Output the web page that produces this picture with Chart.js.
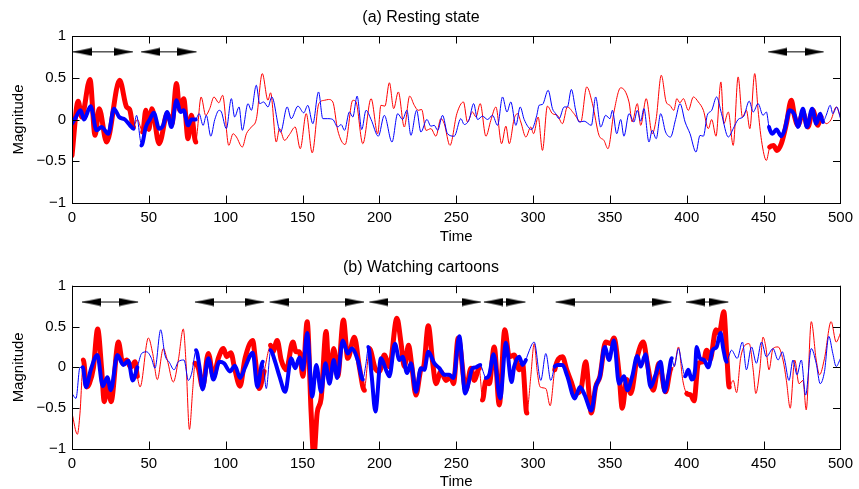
<!DOCTYPE html>
<html>
<head>
<meta charset="utf-8">
<script src="https://cdn.jsdelivr.net/npm/chart.js@4.4.0/dist/chart.umd.min.js"></script>
<style>
  html, body { margin: 0; padding: 0; background: #fff; overflow: hidden; }
  .panel { position: absolute; left: 0; width: 859px; height: 260px; }
  #panel-rest { top: 0; }
  #panel-cartoon { top: 240px; }
</style>
</head>
<body>
<div class="panel" id="panel-rest"><canvas id="chart-rest" width="859" height="260"></canvas></div>
<div class="panel" id="panel-cartoon"><canvas id="chart-cartoon" width="859" height="260"></canvas></div>
<script>
const restRedT = [0, 4, 6.3, 11.7, 15, 17.7, 22.5, 31, 35.5, 37.5, 40, 42.5, 46, 48, 50, 52, 56.7, 62, 65, 68, 70, 72.7, 75.5, 77.7, 80.5, 84, 87, 89.6, 92.4, 95.5, 98, 102, 104.8, 107, 110.8, 113.5, 116.7, 120, 123.8, 127.5, 129.2, 132.9, 135, 138.3, 141.5, 145.2, 148.5, 152.4, 156.3, 160.6, 164.3, 166.9, 169.7, 172.9, 177.7, 182.7, 184.8, 189.2, 194.6, 198.9, 201, 203.6, 206.5, 209.3, 212.3, 216.2, 219.7, 222.7, 225.3, 227.5, 230.3, 233.5, 236.8, 240, 242.2, 245.9, 250.4, 254.7, 257.3, 260.6, 262.8, 265.6, 269.3, 272.5, 275.8, 279.5, 282.3, 284.5, 287.7, 289.9, 292, 295.3, 298.5, 300.3, 303.3, 306.1, 309.3, 312.6, 315.8, 319.1, 322.3, 326.6, 331, 334.9, 338.6, 342.9, 346.1, 348.7, 352.6, 357, 362.4, 364.5, 367.8, 370, 373.6, 377.5, 380.1, 383.4, 386.6, 389, 391.6, 393.5, 395.5, 397.8, 401, 404.3, 407.5, 410.8, 414, 416.2, 419, 422.2, 424.1, 427, 430.2, 433.4, 436.2, 438.8, 441, 444.2, 446.4, 448.6, 451.8, 454, 456.4, 458.7, 461.5, 464.8, 468, 470.2, 472.3, 475.6, 478.8, 482, 485.3, 487.4, 490.7, 493.9, 497.2, 500];
const restRedV = [-0.43, 0.22, 0.03, 0.48, -0.19, 0.13, -0.27, 0.47, 0.15, 0.12, -0.09, 0.0, -0.15, 0.11, -0.12, 0.13, -0.29, 0.07, -0.05, 0.43, 0.11, 0.25, -0.23, 0.05, -0.27, 0.27, 0.05, 0.13, 0.27, 0.2, 0.29, -0.31, -0.17, -0.21, -0.33, -0.17, -0.09, 0.01, 0.55, 0.23, 0.32, -0.27, -0.11, -0.25, -0.18, -0.09, -0.35, 0.07, -0.4, 0.19, 0.23, 0.24, 0.21, -0.13, -0.3, 0.23, 0.21, -0.29, 0.25, -0.17, 0.17, 0.16, 0.44, 0.13, 0.33, -0.09, 0.28, 0.17, 0.11, 0.12, -0.13, -0.11, -0.2, 0.01, -0.05, -0.31, 0.07, 0.21, -0.03, 0.09, 0.03, 0.19, -0.2, -0.01, 0.15, -0.29, -0.08, -0.29, 0.01, 0.07, -0.03, -0.21, -0.09, -0.17, 0.03, -0.37, 0.16, 0.07, 0.05, -0.05, 0.15, 0.07, -0.03, 0.39, 0.19, -0.19, -0.25, -0.35, 0.09, 0.38, 0.21, -0.03, 0.19, -0.07, 0.25, -0.17, 0.01, 0.53, 0.21, 0.17, 0.11, 0.25, 0.2, 0.25, 0.11, 0.27, 0.21, 0.11, -0.11, 0, -0.2, 0.45, -0.05, 0.09, -0.31, 0.51, 0.03, 0.11, -0.11, 0.55, 0.11, -0.25, -0.49, -0.33, -0.31, -0.37, -0.29, -0.05, 0.23, 0.03, -0.07, 0.08, -0.09, 0.11, -0.07, 0.03, -0.05, 0.0, 0.15, 0.03];

const restBlueT = [0, 2, 5.6, 7.8, 12.1, 16, 19.2, 23.6, 27.3, 30.7, 34.4, 37.7, 40, 42, 45.2, 48, 50.6, 53.2, 56.7, 59.3, 61.9, 64.7, 68, 70.6, 72.7, 75.5, 77.7, 80.5, 82.7, 85.3, 87.4, 90.3, 92.9, 95.7, 97.2, 100.4, 103.7, 105.8, 108.7, 110.8, 114.5, 116.7, 119.9, 122.1, 124.7, 127.5, 130, 135.7, 140, 142.6, 147, 150.8, 153.4, 156.7, 160.4, 163.2, 166.4, 169.7, 172.9, 175.1, 177.3, 180.5, 182.7, 185.5, 188.5, 191.3, 194.6, 199.3, 203.2, 208.2, 211.9, 215.1, 217.9, 220.5, 224.2, 227, 230.9, 233.5, 235.7, 237.9, 241.1, 244.3, 248.7, 253, 255.2, 258.4, 261.3, 263.9, 267.1, 270.4, 273.6, 276.9, 280.1, 283, 285.5, 288.8, 291.6, 294.2, 299, 302.4, 303.9, 306.1, 309.8, 312.6, 314.7, 316.9, 320.2, 322.3, 324.9, 327.7, 329.9, 333.2, 337.9, 340.7, 344, 347.2, 350, 351.6, 354.4, 357, 359.1, 362.4, 365.6, 367.8, 370, 372.1, 375.4, 377.5, 380.1, 383, 386.2, 389.4, 392.7, 395.6, 398.9, 402.1, 406, 408.6, 410.8, 413.3, 416.2, 419.4, 422.6, 427, 430.2, 433.4, 437.1, 440.6, 443.2, 446.4, 449.6, 451.8, 453.5, 455.7, 458.3, 461.5, 463.7, 466.9, 470.2, 472.3, 475.6, 478.1, 481.6, 484.2, 486.8, 488.6, 490.7, 493.3, 495, 497.6, 500];
const restBlueV = [-0.05, 0.01, 0.11, 0, 0.16, -0.13, -0.09, -0.17, 0.13, 0.03, 0.0, -0.07, -0.11, 0.05, -0.31, -0.09, 0.0, 0.08, -0.11, -0.07, 0.09, -0.09, 0.23, 0.09, 0.11, -0.07, 0.0, 0.0, 0.07, -0.07, 0.05, -0.2, 0.0, 0.11, 0.09, -0.11, 0.25, 0.03, 0.15, -0.13, 0.19, 0.11, 0.41, 0.19, 0.21, 0.15, 0.27, -0.15, 0.15, 0.01, 0.16, 0.08, 0.17, -0.05, 0.33, 0.01, 0.01, 0, -0.09, -0.06, -0.13, 0.09, 0.03, 0.28, -0.12, 0.11, 0.0, -0.2, 0.05, -0.27, 0.07, 0.0, 0.11, -0.19, 0.11, -0.15, 0, -0.08, -0.07, -0.13, 0.05, -0.17, -0.2, 0.01, -0.06, 0, 0.19, 0.0, 0.04, 0.0, 0.05, -0.07, 0.27, 0.09, 0.21, -0.07, 0.15, 0.0, -0.12, 0.05, 0.17, 0.18, 0.35, 0.13, 0.07, 0.01, 0.15, 0.15, 0.36, 0.11, -0.03, -0.02, -0.07, 0.27, -0.09, 0.05, 0.01, 0.11, -0.17, 0, -0.2, 0.07, -0.03, 0.11, -0.02, 0.13, -0.27, -0.13, -0.23, 0.07, -0.15, -0.21, 0.0, 0.19, -0.03, -0.17, -0.39, -0.19, -0.2, 0.05, 0.11, 0.27, 0.07, -0.21, -0.11, 0, 0.04, 0.22, 0.09, 0.19, 0.05, 0.09, -0.09, -0.17, -0.12, -0.2, -0.12, 0.11, 0.05, -0.09, 0.13, -0.09, 0.13, -0.05, 0.07, -0.03, 0.05, 0.17, 0.07, 0.15, 0.01];

// (b) watching cartoons
const cartoonRedT = [0, 3.5, 5.2, 7.4, 9.5, 11.3, 13.9, 16.7, 19.2, 21, 23.2, 25.4, 30.2, 33, 35.5, 38.2, 41, 42.5, 44.3, 49.7, 52.5, 55.5, 59.4, 62, 65.9, 69.2, 72.4, 74.2, 76.4, 78.5, 80, 82.2, 85, 88.7, 92, 95.2, 98.5, 100.7, 103.3, 106, 109.3, 112.6, 117.6, 119.1, 121.7, 125, 129.2, 130.7, 133.5, 136.1, 139.4, 143.7, 145.8, 148, 150.2, 153, 155.6, 157.3, 159.5, 162.1, 165.3, 167.5, 170.3, 172.9, 176.6, 179.4, 183.7, 187, 190.2, 193.5, 197.2, 200, 203.2, 206.5, 211.4, 214, 216.2, 219, 221, 223.8, 227, 228.8, 231.8, 234.6, 236.8, 240, 243.3, 246.5, 248.2, 251.3, 256.3, 259.6, 261.7, 265, 267.1, 269.3, 271.5, 274.7, 278, 281.6, 284.5, 287.7, 291, 293.1, 295.9, 298.5, 300.7, 302.8, 304.6, 308.3, 311.1, 314.1, 319.1, 321.9, 324.9, 327.7, 331, 334.2, 337.9, 340.7, 343.5, 347.2, 350.5, 352.6, 355.9, 358, 360.9, 363.5, 367.8, 371.7, 374.3, 378.2, 381.9, 386.2, 389.5, 391.8, 394.6, 397.4, 400, 402.6, 404.7, 407.5, 410.8, 412.9, 415.1, 419, 421.1, 424.1, 425.9, 427.6, 430.2, 432.4, 435, 437.8, 440.6, 443.2, 444.9, 447.5, 449.6, 451.4, 453.5, 456.1, 459.4, 462.6, 464.8, 467.3, 470.2, 473, 475.6, 477.7, 481, 484.2, 486.4, 489.6, 493.9, 497.2, 500];
const cartoonRedV = [-0.56, -0.82, -0.56, 0.09, -0.24, -0.2, -0.01, 0.47, 0.0, -0.42, -0.16, -0.42, 0.31, 0.05, 0.09, 0, 0.07, -0.11, -0.24, 0.36, 0.17, -0.15, 0.23, 0.09, -0.18, 0.09, 0.47, 0.05, -0.76, -0.28, 0.05, -0.01, -0.24, 0.17, -0.11, 0.11, 0.23, 0.13, 0.18, -0.03, -0.23, 0.11, 0.33, 0.13, -0.26, -0.05, 0.27, 0.19, 0.33, 0.09, -0.03, 0.31, 0.19, 0.19, -0.11, 0.56, -0.56, -1.1, -0.56, -0.38, 0.44, -0.16, 0.23, -0.11, 0.58, 0.11, 0.37, 0.0, -0.28, 0.23, -0.01, -0.05, 0.15, 0.01, 0.6, 0.31, 0.01, 0.27, 0.03, -0.34, -0.03, 0.01, 0.51, 0.07, -0.2, -0.05, -0.16, -0.12, -0.2, 0.36, -0.28, -0.01, -0.16, -0.01, -0.4, -0.16, -0.2, 0.25, -0.46, 0.46, 0.13, 0.15, -0.03, 0.05, -0.56, -0.11, 0.29, -0.07, -0.24, -0.26, -0.47, -0.03, 0.13, -0.03, -0.18, -0.32, -0.28, 0.07, -0.56, -0.24, -0.11, 0.31, 0.29, 0.36, -0.07, -0.5, -0.15, -0.32, 0.13, 0.31, 0.05, -0.28, 0.05, -0.3, -0.02, 0.01, 0.25, -0.16, -0.32, -0.34, -0.41, 0.05, 0.07, 0.21, 0.09, 0.46, 0.42, 0.68, 0.19, -0.24, -0.16, -0.31, 0.11, 0.27, 0.29, -0.03, -0.32, -0.03, 0.37, 0.25, -0.03, 0.23, 0.25, 0.09, -0.16, -0.5, 0.09, -0.2, -0.16, -0.52, 0.56, 0.09, -0.09, 0.11, 0.56, 0.31, 0.42];

const cartoonBlueT = [0, 2.6, 5.2, 7, 9.1, 12.2, 16.5, 20, 23, 25.2, 29.5, 33.4, 36.7, 39.5, 42.5, 45.3, 48.6, 51.7, 54, 57.7, 60.5, 63.4, 66.4, 69.2, 72.9, 75.7, 77.9, 80.7, 82.9, 85, 88.7, 92, 95.9, 98.9, 102.8, 106, 109.3, 112.6, 117.6, 120.6, 124.1, 126.4, 129.2, 131.8, 135, 138.7, 142.6, 145.2, 148, 150.2, 153, 156.3, 158.9, 162.1, 164.9, 167.5, 170.3, 172.5, 176.2, 179.4, 182, 185.9, 189.2, 191.3, 192.8, 195, 197.4, 201, 204.3, 206.5, 210.1, 213, 215.1, 218, 220.5, 223.8, 227, 229.2, 231.8, 235.7, 239, 242.2, 245.4, 248.2, 252, 255.8, 257.4, 260.6, 262.8, 265.6, 269.3, 271.5, 274.3, 278.6, 282.3, 286, 287.7, 291, 293.1, 295.3, 296.4, 300.7, 305, 308.3, 311.5, 314.1, 315.8, 319.1, 322.3, 327.1, 330.5, 333.6, 337.9, 340.7, 343.5, 346.6, 349.4, 352.6, 355.9, 359.1, 361.3, 364.5, 367.8, 370, 373.2, 376.4, 379.7, 383, 385.5, 388, 390.2, 391.8, 394.6, 396.7, 398.9, 401, 403.2, 405.4, 406.4, 408.6, 411.2, 414, 416.8, 419.4, 422, 423.7, 425.9, 429.1, 432.8, 436.2, 438.8, 442.1, 445.3, 448.6, 451.8, 456.1, 459.4, 462.2, 463.7, 466.5, 469.1, 471.7, 474.5, 477.3, 481, 484.2, 486.8, 489.6, 492.4, 495, 497.2, 500];
const cartoonBlueV = [-0.32, -0.38, 0, 0.0, -0.24, -0.03, 0.15, -0.23, -0.12, -0.28, 0.15, 0.03, 0.08, -0.16, 0, 0.17, 0.19, 0.11, -0.01, 0.46, 0.15, 0.06, -0.03, 0.07, 0.09, -0.16, -0.07, 0.21, 0.01, -0.27, 0.11, -0.15, 0.07, 0.05, -0.05, 0.02, -0.13, 0.0, 0.18, -0.24, 0.07, -0.26, 0.21, 0.09, -0.11, -0.3, 0.11, -0.01, 0.12, -0.03, 0.42, -0.36, 0.03, -0.3, 0.05, -0.2, 0.09, -0.13, 0.33, 0.17, 0.23, 0.09, -0.15, 0.05, 0.25, -0.11, -0.54, 0.11, -0.03, -0.11, 0.29, 0.09, 0.13, -0.07, 0.05, -0.3, -0.01, -0.03, 0.19, 0.05, -0.01, -0.09, -0.09, -0.13, 0.38, -0.32, -0.24, -0.01, 0.0, 0.03, -0.13, -0.09, 0.16, -0.38, 0.3, -0.18, 0.01, 0.13, 0.03, 0.09, 0.15, 0.31, -0.16, 0.17, -0.16, 0.01, 0.03, 0.03, -0.11, -0.38, -0.24, -0.34, -0.53, -0.24, -0.11, 0.25, 0.09, 0.33, -0.2, -0.11, -0.28, -0.11, 0.14, 0.01, 0.16, -0.24, -0.09, 0.07, -0.3, -0.1, 0.11, 0.01, 0.23, 0.05, -0.11, -0.03, -0.15, -0.03, 0.25, 0.11, 0.09, 0, 0.21, 0.25, 0.42, 0.23, 0.07, 0.21, 0.11, 0.31, -0.03, 0.25, 0.05, 0.31, 0.13, 0.23, 0.09, 0.19, 0.09, -0.16, 0.09, -0.09, 0.09, -0.34, 0.23, 0.05, -0.2, -0.05, 0.38, 0.17, 0.01, 0.11];

// arrow spans (also the spans drawn with thick lines)
const restSpanStart = [0.5, 45, 453];
const restSpanEnd = [39.6, 81, 489];
const cartoonSpanStart = [6.5, 80, 128.6, 193.5, 268, 314.7, 399.5];
const cartoonSpanEnd = [43, 125, 190, 266, 295, 390, 427];

const xTicks = [0, 50, 100, 150, 200, 250, 300, 350, 400, 450, 500];
const yTicks = [-1, -0.5, 0, 0.5, 1];

const FONT_FAMILY = "'Liberation Sans', Arial, Helvetica, sans-serif";
const TICK_LEN = 7.5;

Chart.defaults.font.family = FONT_FAMILY;
Chart.defaults.font.size = 15;
Chart.defaults.color = '#000';

// arrow head image, tip sits at the centre of the image
function makeHead(dir) {
  const c = document.createElement('canvas');
  c.width = 38;
  c.height = 9;
  const g = c.getContext('2d');
  g.fillStyle = '#000';
  g.beginPath();
  if (dir < 0) {
    g.moveTo(19, 4.5); g.lineTo(38, 0.5); g.lineTo(38, 8.5);
  } else {
    g.moveTo(19, 4.5); g.lineTo(0, 0.5); g.lineTo(0, 8.5);
  }
  g.closePath();
  g.fill();
  return c;
}
const headLeft = makeHead(-1);
const headRight = makeHead(1);

function toPoints(ts, vs) {
  return ts.map((t, i) => ({ x: t, y: vs[i] }));
}

function widthBy(starts, ends, thick) {
  return ctx => {
    const mid = (ctx.p0.parsed.x + ctx.p1.parsed.x) / 2;
    return starts.some((s, i) => mid >= s && mid <= ends[i]) ? thick : 1;
  };
}

function arrowDatasets(starts, ends, level) {
  return starts.map((s, i) => ({
    data: [{ x: s, y: level }, { x: ends[i], y: level }],
    borderColor: '#000',
    borderWidth: 1,
    pointStyle: [headLeft, headRight],
    pointRadius: 4,
    order: 0
  }));
}

// box round the axes with inward ticks, like matlab
const boxPlugin = {
  id: 'matlabBox',
  afterDatasetsDraw(chart) {
    const { ctx, chartArea: a, scales: { x, y } } = chart;
    ctx.save();
    ctx.strokeStyle = '#000';
    ctx.lineWidth = 1;
    ctx.beginPath();
    xTicks.forEach(v => {
      const px = Math.round(x.getPixelForValue(v)) + 0.5;
      ctx.moveTo(px, a.bottom); ctx.lineTo(px, a.bottom - TICK_LEN);
      ctx.moveTo(px, a.top); ctx.lineTo(px, a.top + TICK_LEN);
    });
    yTicks.forEach(v => {
      const py = Math.round(y.getPixelForValue(v)) + 0.5;
      ctx.moveTo(a.left, py); ctx.lineTo(a.left + TICK_LEN, py);
      ctx.moveTo(a.right, py); ctx.lineTo(a.right - TICK_LEN, py);
    });
    ctx.stroke();
    ctx.strokeRect(Math.round(a.left) + 0.5, Math.round(a.top) + 0.5,
      Math.round(a.right - a.left), Math.round(a.bottom - a.top));
    ctx.restore();
  }
};

function createPanel(canvasId, cfg) {
  const ctx = document.getElementById(canvasId);
  return new Chart(ctx, {
    type: 'line',
    data: {
      datasets: [
        ...arrowDatasets(cfg.spanStart, cfg.spanEnd, cfg.arrowLevel),
        {
          data: toPoints(cfg.blueT, cfg.blueV),
          borderColor: '#0000ff',
          borderWidth: 1,
          pointRadius: 0,
          cubicInterpolationMode: 'monotone',
          borderCapStyle: 'round',
          borderJoinStyle: 'round',
          segment: { borderWidth: widthBy(cfg.spanStart, cfg.spanEnd, 4) },
          order: 1
        },
        {
          data: toPoints(cfg.redT, cfg.redV),
          borderColor: '#ff0000',
          borderWidth: 1,
          pointRadius: 0,
          cubicInterpolationMode: 'monotone',
          borderCapStyle: 'round',
          borderJoinStyle: 'round',
          segment: { borderWidth: widthBy(cfg.spanStart, cfg.spanEnd, 5) },
          order: 2
        }
      ]
    },
    options: {
      responsive: false,
      animation: false,
      events: [],
      layout: { padding: { left: 0, right: 17, top: 0, bottom: 0 } },
      plugins: {
        legend: { display: false },
        tooltip: { enabled: false },
        title: {
          display: true,
          text: cfg.title,
          color: '#000',
          font: { size: 16, weight: 'normal' },
          padding: cfg.titlePad
        }
      },
      scales: {
        x: {
          type: 'linear',
          min: 0,
          max: 500,
          grid: { display: false, drawTicks: false },
          border: { display: false },
          afterBuildTicks: s => { s.ticks = xTicks.map(v => ({ value: v })); },
          ticks: { padding: 6, maxRotation: 0, autoSkip: false, color: '#000' },
          title: { display: true, text: 'Time', color: '#000', padding: { top: 0, bottom: cfg.timePad } },
          afterFit: s => { s.height = cfg.xHeight; }
        },
        y: {
          min: -1,
          max: 1,
          grid: { display: false, drawTicks: false },
          border: { display: false },
          afterBuildTicks: s => { s.ticks = yTicks.map(v => ({ value: v })); },
          ticks: {
            padding: 6,
            color: '#000',
            callback: v => (v < 0 ? '\u2212' + Math.abs(v) : String(v))
          },
          title: { display: true, text: 'Magnitude', color: '#000', padding: { top: 9.5, bottom: 0 } },
          afterFit: s => { s.width = 72; }
        }
      }
    },
    plugins: [boxPlugin]
  });
}

createPanel('chart-rest', {
  title: '(a) Resting state',
  titlePad: { top: 8.1, bottom: 8.7 },
  xHeight: 57,
  timePad: 14,
  arrowLevel: 0.81,
  redT: restRedT, redV: restRedV,
  blueT: restBlueT, blueV: restBlueV,
  spanStart: restSpanStart, spanEnd: restSpanEnd
});

createPanel('chart-cartoon', {
  title: '(b) Watching cartoons',
  titlePad: { top: 18.4, bottom: 8.1 },
  xHeight: 51,
  timePad: 9,
  arrowLevel: 0.8,
  redT: cartoonRedT, redV: cartoonRedV,
  blueT: cartoonBlueT, blueV: cartoonBlueV,
  spanStart: cartoonSpanStart, spanEnd: cartoonSpanEnd
});
</script>
</body>
</html>
